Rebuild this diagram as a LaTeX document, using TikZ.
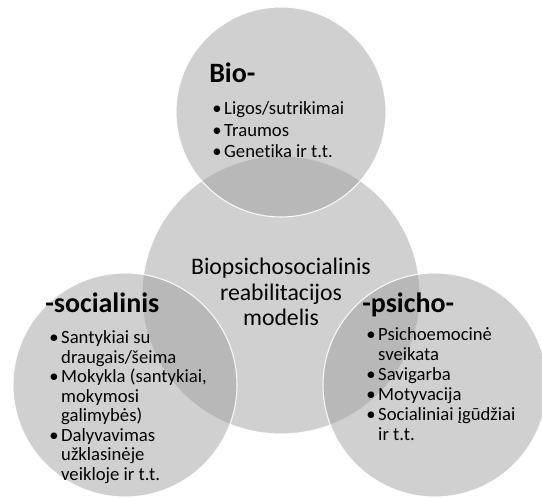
\documentclass[tikz,border=0pt]{standalone}
\usepackage{fontspec}
\setmainfont{Carlito}[Ligatures=NoCommon]
\usepackage{tikz}
\usetikzlibrary{positioning}

\begin{document}
\begin{tikzpicture}[
  x=0.75pt, y=-0.75pt,
  bubble/.style={circle, inner sep=0pt, outer sep=0pt, fill=black!37, fill opacity=0.5, draw=white, draw opacity=0.9, line width=0.8pt},
  headbox/.style={anchor=base west, inner sep=0pt, font=\fontsize{21}{24}\selectfont\bfseries},
  listbox/.style={anchor=base west, inner sep=0pt, align=left},
  centerbox/.style={inner sep=0pt, align=center, font=\fontsize{17.8}{19.3}\selectfont}
]
\useasboundingbox (0,0) rectangle (542,498);

% circles
\node[bubble, minimum size=208.5pt] (model) at (281,295) {};
\node[bubble, minimum size=157.5pt] (bio) at (281,112) {};
\node[bubble, minimum size=168pt] (social) at (125,385) {};
\node[bubble, minimum size=168pt] (psycho) at (435,385) {};

% texts
\node[centerbox] (modelText) at (281,292) {Biopsichosocialinis\\reabilitacijos\\modelis};

\node[headbox] (bioHead) at (209,83) {Bio-};
\node[listbox, font=\fontsize{14}{15.8}\selectfont] (bioList) at (212,115) {%
  \begin{tabular}[t]{@{}l@{\hspace{2pt}}l@{}}
  •&Ligos/sutrikimai\\
  •&Traumos\\
  •&Genetika ir t.t.
  \end{tabular}};

\node[headbox] (socialHead) at (45,313) {-socialinis};
\node[listbox, font=\fontsize{14}{14.6}\selectfont] (socialList) at (49,344) {%
  \begin{tabular}[t]{@{}l@{\hspace{2pt}}l@{}}
  •&Santykiai su\\
  &draugais/šeima\\
  •&Mokykla (santykiai,\\
  &mokymosi\\
  &galimybės)\\
  •&Dalyvavimas\\
  &užklasinėje\\
  &veikloje ir t.t.
  \end{tabular}};

\node[headbox] (psychoHead) at (362,313) {-psicho-};
\node[listbox, font=\fontsize{14}{15}\selectfont] (psychoList) at (366,341) {%
  \begin{tabular}[t]{@{}l@{\hspace{2pt}}l@{}}
  •&Psichoemocinė\\
  &sveikata\\
  •&Savigarba\\
  •&Motyvacija\\
  •&Socialiniai įgūdžiai\\
  &ir t.t.
  \end{tabular}};
\end{tikzpicture}
\end{document}
